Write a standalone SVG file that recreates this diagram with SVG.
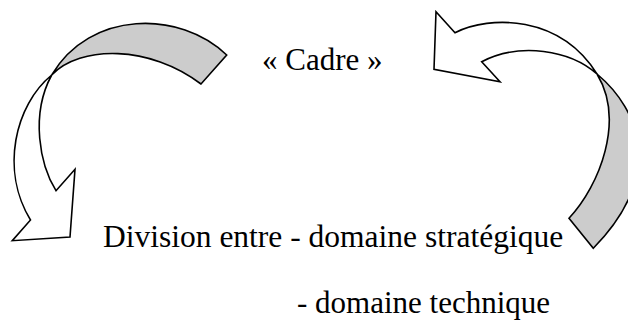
<svg xmlns="http://www.w3.org/2000/svg" width="628" height="329" viewBox="0 0 628 329">
  <style>
    text { font-family: "Liberation Serif", "DejaVu Serif", serif; font-size: 31px; fill: #000; }
    .face { fill: #ffffff; stroke: #000; stroke-width: 1.6; stroke-linejoin: miter; }
    .back { fill: #cccccc; stroke: #000; stroke-width: 1.6; stroke-linejoin: miter; }
  </style>
  <rect width="628" height="329" fill="#ffffff"/>
  <g id="connectors">
    <g id="arrow-left">
      <path class="back" d="M226.7,55 C180,10 90,10 51.7,75 C80,45 150,45 201,84 Z"/>
      <path class="face" d="M51.7,75 C15,105 0,170 30.5,220 L12.3,240.7 L70,237 L75,169.3 L56,190.7 C40,165 30,115 51.7,75 Z"/>
    </g>
    <g id="arrow-right">
      <path class="face" d="M455,32.7 C490,15 560,15 597,74 C570,50 520,42 481.7,61.7 L500,81.7 L434,69.3 L436,11.7 Z"/>
      <path class="back" d="M597,74 C640,110 665,175 593.3,248.3 L569,218.3 C600,185 625,120 597,74 Z"/>
    </g>
  </g>
  <g id="node-cadre">
    <text x="262" y="70" font-family="Liberation Serif, serif">« Cadre »</text>
  </g>
  <g id="node-division">
    <text x="103" y="247" font-family="Liberation Serif, serif" style="font-size:31.5px">Division entre - domaine stratégique</text>
    <text x="297" y="313" font-family="Liberation Serif, serif">- domaine technique</text>
  </g>
</svg>
